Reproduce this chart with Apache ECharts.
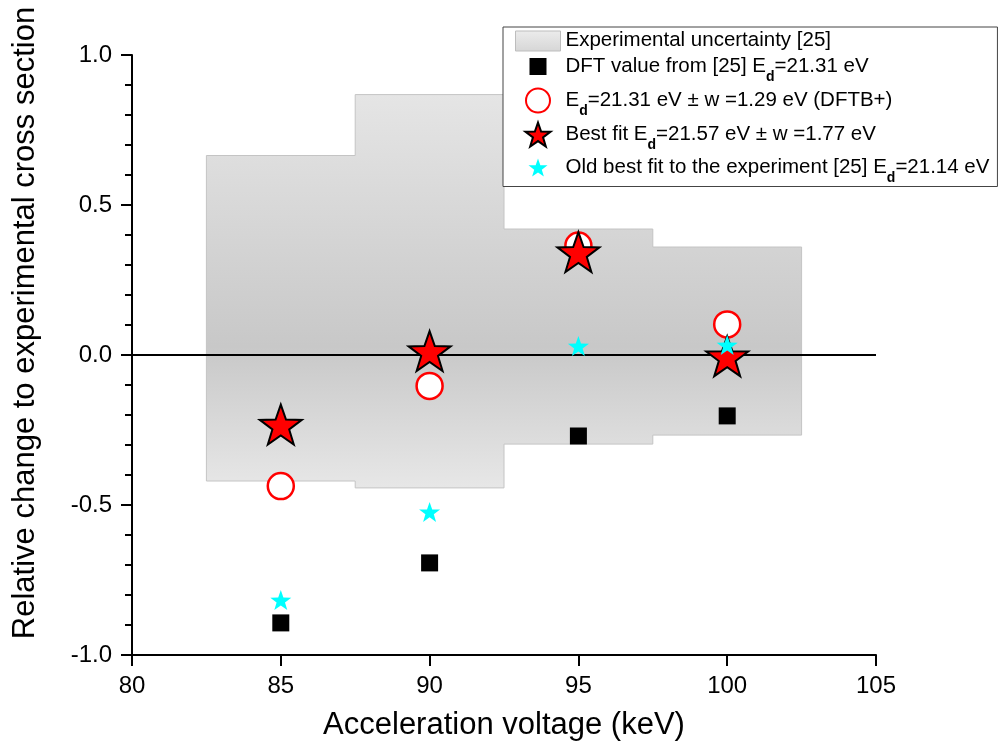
<!DOCTYPE html>
<html><head><meta charset="utf-8">
<script src="https://cdn.jsdelivr.net/npm/echarts@6/dist/echarts.min.js"></script>
<style>html,body{margin:0;padding:0;background:#fff}#c{width:1000px;height:752px}</style>
</head><body><div id="c"></div>
<script>
// ---- data ----
const voltages = [85, 90, 95, 100];
const bandLeft = [82.5, 87.5, 92.5, 97.5];
const bandRight = [87.5, 92.5, 97.5, 102.5];
const bandUpper = [0.665, 0.868, 0.42, 0.36];
const bandLower = [-0.42, -0.443, -0.297, -0.267];
const dftValues = [-0.893, -0.693, -0.27, -0.203];
const dftbValues = [-0.437, -0.103, 0.365, 0.102];
const bestFitValues = [-0.232, 0.013, 0.343, -0.004];
const oldFitValues = [-0.817, -0.523, 0.03, 0.033];
const zeroLineX = [80, 105];

const seriesNames = [
  'Experimental uncertainty [25]',
  'DFT value from [25] Ed=21.31 eV',
  'Ed=21.31 eV ± w =1.29 eV (DFTB+)',
  'Best fit Ed=21.57 eV ± w =1.77 eV',
  'Old best fit to the experiment [25] Ed=21.14 eV'
];
const legendLabels = [
  '{n|Experimental uncertainty [25]}',
  '{n|DFT value from [25] E}{s|d}{n|=21.31 eV}',
  '{n|E}{s|d}{n|=21.31 eV ± w =1.29 eV (DFTB+)}',
  '{n|Best fit E}{s|d}{n|=21.57 eV ± w =1.77 eV}',
  '{n|Old best fit to the experiment [25] E}{s|d}{n|=21.14 eV}'
];

const FONT = '"Liberation Sans", Arial, sans-serif';

function starPath(R, ratio, box) {
  let d = '';
  let cx = R, cy = R;
  if (box) {
    d += 'M0,0M' + box + ',' + box;
    cx = box / 2; cy = box / 2 + 0.0955 * R;
  }
  for (let k = 0; k < 10; k++) {
    const a = (-90 + k * 36) * Math.PI / 180;
    const r = k % 2 === 0 ? R : R * ratio;
    d += (k === 0 ? 'M' : 'L') + (cx + r * Math.cos(a)).toFixed(3) + ',' + (cy + r * Math.sin(a)).toFixed(3);
  }
  return 'path://' + d + 'Z';
}
const STAR = starPath(50, 0.4);

const pairs = vals => voltages.map((v, i) => [v, vals[i]]);

const chart = echarts.init(document.getElementById('c'), null, {renderer: 'canvas'});
chart.setOption({
  animation: false,
  backgroundColor: '#fff',
  grid: {left: 132, right: 124, top: 55, bottom: 97},
  xAxis: {
    type: 'value', min: 80, max: 105, interval: 5,
    name: 'Acceleration voltage (keV)', nameLocation: 'middle', nameGap: 55,
    nameTextStyle: {fontSize: 31, color: '#000', fontFamily: FONT},
    axisLine: {onZero: false, lineStyle: {color: '#000', width: 2}},
    axisTick: {length: 11, lineStyle: {color: '#000', width: 2}},
    axisLabel: {fontSize: 24, color: '#000', margin: 19, fontFamily: FONT},
    splitLine: {show: false}
  },
  yAxis: {
    type: 'value', min: -1, max: 1, interval: 0.5,
    name: 'Relative change to experimental cross section', nameLocation: 'middle', nameGap: 91,
    nameRotate: 90,
    nameTextStyle: {fontSize: 31, color: '#000', fontFamily: FONT, padding: [0, 0, 0, 64]},
    axisLine: {onZero: false, lineStyle: {color: '#000', width: 2}},
    axisTick: {length: 11, lineStyle: {color: '#000', width: 2}},
    minorTick: {show: true, splitNumber: 5, length: 7, lineStyle: {color: '#000', width: 2}},
    axisLabel: {fontSize: 24, color: '#000', margin: 20, fontFamily: FONT,
      formatter: v => v.toFixed(1)},
    splitLine: {show: false}
  },
  legend: {
    orient: 'vertical', left: 503, top: 27,
    padding: [3, 8, 1, 12], itemGap: 3, itemWidth: 45, itemHeight: 24,
    backgroundColor: '#fff', borderColor: '#444', borderWidth: 1,
    formatter: name => legendLabels[seriesNames.indexOf(name)],
    textStyle: {
      color: '#000', fontFamily: FONT,
      rich: {
        n: {fontSize: 20.5, lineHeight: 22, color: '#000', fontFamily: FONT, verticalAlign: 'top'},
        s: {fontSize: 14, lineHeight: 14, color: '#000', fontFamily: FONT, fontWeight: 'bold', padding: [15, 0, 0, 0], verticalAlign: 'top'}
      }
    },
    data: [
      {name: seriesNames[0], icon: 'path://M0,0h45v20h-45z',
        itemStyle: {color: {type: 'linear', x: 0, y: 0, x2: 0, y2: 1, colorStops: [{offset: 0, color: '#ececec'}, {offset: 1, color: '#d6d6d6'}]}, borderColor: '#bdbdbd', borderWidth: 1}},
      {name: seriesNames[1], icon: 'path://M0,0M24,24M3.5,3.5h17v17h-17z'},
      {name: seriesNames[2]},
      {name: seriesNames[3]},
      {name: seriesNames[4], icon: starPath(10, 0.4, 24)}
    ]
  },
  series: [
    {
      name: seriesNames[0], type: 'custom', silent: true, z: 1,
      itemStyle: {color: '#d8d8d8'},
      data: [[bandLeft[0], bandUpper[0]]],
      renderItem: function (params, api) {
        const pts = [];
        for (let i = 0; i < bandLeft.length; i++) {
          pts.push(api.coord([bandLeft[i], bandUpper[i]]));
          pts.push(api.coord([bandRight[i], bandUpper[i]]));
        }
        for (let i = bandLeft.length - 1; i >= 0; i--) {
          pts.push(api.coord([bandRight[i], bandLower[i]]));
          pts.push(api.coord([bandLeft[i], bandLower[i]]));
        }
        const yTop = api.coord([bandLeft[0], Math.max(...bandUpper)])[1];
        const yBot = api.coord([bandLeft[0], Math.min(...bandLower)])[1];
        return {
          type: 'polygon', shape: {points: pts},
          style: {
            fill: new echarts.graphic.LinearGradient(0, yTop, 0, yBot, [
              {offset: 0, color: '#e5e5e5'},
              {offset: 0.64, color: '#c8c8c8'},
              {offset: 1, color: '#e7e7e7'}
            ], true),
            stroke: '#c4c4c4', lineWidth: 1
          }
        };
      }
    },
    {
      name: 'zero', type: 'line', silent: true, z: 2, symbol: 'none',
      lineStyle: {color: '#000', width: 2},
      data: zeroLineX.map(x => [x, 0])
    },
    {
      name: seriesNames[1], type: 'scatter', z: 3, symbol: 'rect', symbolSize: 17,
      itemStyle: {color: '#000', opacity: 1},
      data: pairs(dftValues)
    },
    {
      name: seriesNames[2], type: 'scatter', z: 4, symbol: 'circle', symbolSize: 26,
      itemStyle: {color: '#fff', borderColor: '#ff0000', borderWidth: 2.5, opacity: 1},
      data: pairs(dftbValues)
    },
    {
      name: seriesNames[3], type: 'scatter', z: 5, symbol: STAR, symbolSize: 42, symbolKeepAspect: true,
      itemStyle: {color: '#ff0000', borderColor: '#000', borderWidth: 2, opacity: 1},
      data: pairs(bestFitValues)
    },
    {
      name: seriesNames[4], type: 'scatter', z: 6, symbol: STAR, symbolSize: 21, symbolKeepAspect: true,
      itemStyle: {color: '#00ffff', opacity: 1},
      data: pairs(oldFitValues)
    }
  ]
});
</script>
</body></html>
